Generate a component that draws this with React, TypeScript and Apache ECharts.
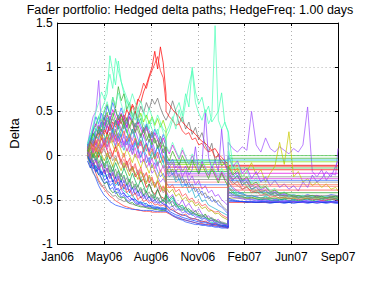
import React, { useEffect, useRef } from "react";
import * as echarts from "echarts";

// ---- axis data ----
const titleText = "Fader portfolio: Hedged delta paths; HedgeFreq: 1.00 days";
const xTickLabels = ["Jan06", "May06", "Aug06", "Nov06", "Feb07", "Jun07", "Sep07"];
const yName = "Delta";

// hedge days (days since 1 Jan 2006) for each period
const daysA = [64, 70, 76, 82, 88, 94, 100, 106, 112, 118, 124, 130, 136, 142, 148, 154, 160, 166, 172, 178, 184, 190, 196, 202, 208, 214, 220, 226, 232];
const daysB = [232, 239, 246, 253, 260, 267, 274, 281, 288, 295, 302, 309, 316, 323, 330, 337, 344, 351, 358, 365];
const daysC = [365, 375, 385, 395, 405, 415, 425, 435, 445, 455, 465, 475, 485, 495, 505, 515, 525, 535, 545, 555, 565, 575, 585, 595, 600];

// delta values in hundredths, period A (first expiry)
const pathsA: number[][] = [
  [5, -5, -12, -20, -28, -33, -38, -42, -46, -48, -51, -53, -55, -57, -58, -59, -60, -61, -62, -62, -63, -63, -63, -64, -64, -64, -64, -64, -64],
  [0, -10, -18, -26, -34, -40, -45, -48, -52, -54, -56, -57, -58, -59, -60, -60, -61, -61, -61, -62, -62, -62, -62, -62, -63, -63, -63, -63, -63],
  [8, -2, -8, -15, -22, -25, -32, -30, -38, -42, -40, -46, -48, -47, -52, -54, -53, -56, -57, -58, -58, -59, -60, -60, -61, -61, -62, -62, -62],
  [10, 2, -6, -4, -14, -20, -16, -26, -30, -28, -36, -40, -38, -44, -46, -50, -48, -52, -54, -55, -56, -57, -58, -58, -59, -59, -60, -60, -60],
  [-2, -12, -20, -24, -30, -35, -33, -40, -42, -46, -45, -49, -50, -52, -51, -54, -55, -56, -55, -57, -58, -58, -59, -59, -60, -60, -60, -61, -61],
  [4, -4, -6, -14, -10, -18, -24, -22, -20, -28, -34, -30, -36, -40, -42, -46, -44, -50, -52, -54, -53, -56, -57, -58, -59, -59, -60, -60, -60],
  [6, 12, 4, 10, -2, 8, 14, 6, -4, 2, 10, 0, -8, -14, -6, -18, -12, -24, -20, -30, -26, -36, -32, -40, -44, -38, -46, -48, -50],
  [10, 18, 26, 20, 30, 22, 14, 24, 32, 28, 18, 26, 20, 12, 22, 14, 6, 16, 8, -2, 6, -8, -2, -14, -8, -18, -24, -20, -28],
  [2, 14, 22, 30, 24, 36, 44, 34, 40, 48, 38, 30, 42, 36, 28, 20, 30, 22, 12, 18, 8, 14, 4, -4, 2, -10, -6, -14, -12],
  [12, 30, 44, 50, 85, 32, 44, 26, 36, 20, 28, 16, 24, 10, 18, 4, 12, -2, 6, -8, -4, -14, -8, -20, -16, -24, -30, -26, -32],
  [14, 24, 30, 36, 44, 52, 60, 70, 113, 95, 80, 107, 84, 70, 62, 55, 48, 40, 52, 44, 36, 28, 40, 30, 22, 30, 18, 12, 20],
  [4, 16, 28, 34, 44, 38, 50, 58, 46, 66, 54, 78, 62, 70, 52, 60, 44, 50, 36, 42, 28, 34, 20, 26, 14, 18, 8, 12, 4],
  [6, 0, 10, 16, 8, 20, 12, 26, 18, 30, 22, 34, 28, 40, 32, 44, 38, 50, 42, 56, 48, 60, 52, 64, 58, 65, 54, 46, 40],
  [8, 16, 10, 20, 26, 18, 30, 24, 36, 30, 40, 34, 46, 40, 52, 46, 58, 52, 64, 60, 72, 80, 90, 100, 118, 98, 123, 105, 70],
  [2, 10, 18, 12, 22, 30, 24, 34, 28, 38, 32, 42, 36, 46, 40, 50, 56, 48, 62, 70, 82, 76, 88, 96, 104, 112, 96, 88, 60],
  [-4, 4, -2, 8, 2, 12, 6, -2, 8, 0, -6, 4, -10, -4, -14, -8, -18, -12, -22, -16, -26, -20, -30, -26, -34, -30, -38, -34, -40],
  [2, -6, 4, -4, -12, -4, -16, -10, -22, -16, -26, -20, -30, -24, -34, -30, -38, -34, -42, -38, -46, -42, -48, -46, -50, -48, -52, -50, -52],
  [0, 8, 16, 6, 14, 24, 18, 10, 20, 12, 4, 14, 6, -2, 8, 0, -8, 2, -6, -14, -4, -12, -20, -10, -18, -26, -16, -24, -30],
  [12, 20, 28, 36, 30, 40, 34, 46, 40, 52, 44, 36, 48, 40, 32, 44, 36, 28, 38, 30, 22, 32, 24, 16, 26, 18, 10, 20, 12],
  [-6, -14, -8, -18, -12, -22, -16, -26, -20, -30, -24, -34, -28, -38, -32, -42, -36, -44, -40, -48, -44, -50, -46, -52, -50, -54, -52, -55, -56],
  [8, 20, 34, 50, 60, 72, 64, 80, 92, 76, 110, 96, 84, 74, 66, 58, 70, 60, 52, 62, 50, 42, 54, 44, 36, 46, 38, 30, 26],
  [4, 12, 2, 10, 18, 8, 16, 24, 14, 22, 30, 20, 28, 36, 26, 34, 42, 32, 40, 48, 38, 46, 36, 44, 34, 42, 32, 40, 30],
  [6, -2, 6, 14, 4, 12, 20, 10, 18, 26, 16, 24, 14, 22, 12, 20, 10, 18, 8, 16, 6, 14, 4, 12, 2, 10, 0, 8, -2],
  [4, -4, -12, -6, -16, -10, -20, -14, -26, -20, -32, -26, -38, -32, -42, -38, -46, -42, -50, -46, -52, -50, -54, -52, -56, -55, -57, -56, -58],
  [0, 6, -2, 4, 10, 2, 8, -2, 4, -6, 0, -10, -4, -14, -8, -18, -12, -22, -16, -26, -20, -30, -24, -34, -30, -38, -34, -42, -38],
  [10, 20, 14, 24, 18, 30, 22, 14, 26, 18, 10, 22, 14, 6, 18, 10, 2, 14, 6, -2, 8, 0, -8, 4, -4, -12, 0, -8, -16],
  [8, 18, 30, 44, 36, 48, 40, 56, 46, 60, 50, 42, 54, 44, 36, 48, 40, 32, 42, 34, 26, 36, 28, 20, 30, 22, 14, 24, 16],
  [0, -8, 2, -6, 4, -4, -12, -2, -10, -18, -8, -16, -24, -14, -22, -30, -20, -28, -36, -26, -34, -42, -32, -40, -48, -38, -46, -52, -44],
  [3, -6, -10, -19, -15, -27, -31, -29, -38, -36, -43, -41, -47, -45, -50, -52, -49, -54, -55, -53, -57, -58, -56, -59, -60, -59, -61, -61, -62],
  [9, 15, 6, 18, 11, 3, 14, 21, 9, -1, 12, 5, -7, 3, -11, -3, -16, -9, -21, -13, -25, -19, -31, -24, -36, -29, -41, -35, -44],
  [1, 9, -3, 5, -9, -1, -14, -6, -19, -11, -24, -17, -28, -22, -33, -27, -37, -32, -41, -36, -45, -40, -47, -44, -50, -47, -53, -50, -54],
  [7, 19, 13, 27, 35, 24, 38, 31, 45, 33, 27, 39, 30, 22, 35, 25, 17, 29, 19, 11, 23, 13, 5, 17, 7, -3, 9, -1, -7],
  [-3, 4, -8, 0, -13, -5, -9, -19, -11, -23, -15, -27, -20, -31, -25, -35, -29, -38, -33, -42, -37, -45, -41, -48, -44, -51, -47, -53, -50],
  [11, 23, 17, 31, 25, 39, 29, 43, 35, 26, 40, 32, 21, 35, 27, 16, 30, 20, 11, 25, 14, 5, 19, 8, -2, 12, 1, -8, 4],
  [13, 21, 34, 28, 45, 38, 52, 61, 49, 66, 57, 71, 59, 48, 63, 51, 42, 55, 44, 36, 49, 38, 30, 43, 31, 24, 37, 26, 19],
  [2, -4, 5, -2, 7, 1, -6, 3, -4, -12, -3, -10, -17, -8, -15, -23, -13, -20, -27, -18, -25, -32, -22, -29, -36, -27, -34, -40, -33],
  [6, 13, 3, 11, 19, 9, 17, 7, 15, 23, 12, 20, 9, 17, 5, 13, 1, 9, -3, 5, -7, 1, -11, -3, -15, -7, -19, -11, -23],
  [0, -7, -15, -11, -22, -18, -28, -25, -34, -31, -39, -37, -44, -42, -47, -46, -50, -49, -53, -52, -55, -54, -57, -56, -58, -58, -59, -59, -60],
  [5, 14, 25, 19, 33, 27, 41, 49, 36, 44, 53, 40, 47, 35, 43, 31, 39, 26, 34, 22, 29, 17, 25, 12, 20, 8, 15, 3, 10],
  [-1, 7, 13, 4, 12, 20, 10, 18, 26, 15, 23, 11, 19, 28, 16, 24, 12, 20, 8, 16, 4, 12, 0, 8, -4, 4, -8, 0, -12],
  [4, -3, -11, -5, -16, -9, -21, -14, -26, -19, -30, -23, -35, -28, -39, -33, -43, -37, -46, -41, -49, -45, -52, -48, -54, -51, -56, -53, -57],
  [8, 17, 11, 21, 29, 22, 31, 40, 33, 42, 35, 46, 38, 30, 41, 33, 25, 37, 28, 20, 32, 23, 15, 27, 18, 10, 22, 13, 6],
];

// period B: an array = path still hedged, a number = frozen delta level
const pathsB: (number[] | number)[] = [
  [-64, -66, -68, -70, -71, -72, -73, -74, -75, -76, -77, -77, -78, -78, -79, -79, -80, -80, -81, -81],
  [-63, -65, -68, -70, -72, -73, -75, -76, -77, -78, -78, -79, -79, -80, -80, -81, -81, -82, -82, -82],
  [-55, -50, -58, -54, -60, -62, -58, -64, -66, -62, -68, -70, -66, -72, -74, -72, -76, -77, -78, -79],
  [-40, -48, -44, -52, -56, -50, -58, -54, -60, -64, -60, -66, -70, -68, -72, -74, -72, -76, -78, -80],
  -27,
  [-45, -52, -48, -56, -60, -58, -64, -62, -68, -66, -70, -72, -70, -74, -76, -75, -78, -79, -80, -80],
  -13,
  [-20, -12, -22, -16, -28, -24, -34, -30, -38, -36, -44, -40, -48, -46, -52, -50, -56, -58, -62, -66],
  -5,
  -20,
  [20, 28, 40, 52, 60, 45, 70, 55, 100, 72, 58, 66, 48, 56, 38, 44, 50, 71, 36, 28],
  -8,
  [40, 48, 62, 50, 36, 44, 30, 38, 24, 32, 18, 26, 12, 4, 14, -6, 2, -12, -8, -18],
  [62, 58, 52, 48, 44, 38, 34, 30, 28, 24, 20, 16, 14, 10, 6, 8, 2, -2, -6, -10],
  [50, 44, 40, 34, 36, 28, 24, 26, 18, 20, 12, 14, 8, 4, 6, -2, 0, -6, -10, -14],
  -30,
  [-50, -55, -52, -58, -62, -60, -64, -66, -64, -68, -70, -69, -72, -74, -73, -76, -77, -78, -79, -80],
  -16,
  [10, 2, 12, 4, -4, 6, -2, -10, 0, -8, -16, -6, -14, -22, -12, -20, -28, -18, -26, -30],
  [-56, -60, -62, -64, -66, -67, -68, -70, -71, -72, -73, -74, -75, -76, -77, -77, -78, -79, -79, -80],
  [26, 34, 44, 30, 52, 38, 60, 80, 96, 60, 48, 40, 52, 36, 44, 147, 40, 30, 38, 26],
  -10,
  [-2, -10, -4, -14, -8, -18, -12, -22, -16, 10, -20, -10, 48, -2, -14, -6, -18, 30, -10, -20],
  [-58, -62, -60, -64, -66, -68, -66, -70, -72, -71, -74, -75, -74, -76, -78, -77, -79, -80, -81, -82],
  -24,
  [-16, -24, -20, -30, -26, -36, -32, -42, -38, -48, -44, -52, -50, -56, -58, -60, -62, -64, -66, -68],
  -33,
  [-44, -50, -46, -54, -58, -56, -62, -60, -64, -66, -68, -67, -70, -72, -71, -74, -75, -76, -77, -78],
  [-62, -65, -67, -69, -70, -72, -73, -74, -75, -76, -77, -78, -78, -79, -79, -80, -80, -81, -81, -82],
  [-30, -36, -33, -41, -38, -46, -43, -50, -48, -54, -52, -57, -55, -60, -62, -64, -63, -67, -69, -71],
  -18,
  [-5, -13, -8, -19, -12, -24, -17, -29, -23, -33, -28, -38, -34, -42, -39, -46, -44, -50, -53, -57],
  [-48, -54, -51, -58, -55, -61, -59, -64, -62, -67, -65, -69, -68, -71, -70, -73, -74, -75, -76, -78],
  -6,
  [12, 4, 15, 6, -3, 9, -1, -10, 2, -7, -15, -4, -12, -21, -9, -17, -25, -14, -22, -29],
  [-36, -42, -38, -46, -43, -50, -47, -53, -51, -57, -55, -60, -58, -63, -62, -66, -65, -69, -71, -73],
  -22,
  [-60, -63, -65, -67, -68, -70, -71, -72, -73, -74, -75, -76, -76, -77, -78, -78, -79, -80, -80, -81],
  [2, -6, 5, -3, -11, 0, -8, -16, -5, -13, -21, -10, -18, -26, -15, -23, -31, -20, -28, -35],
  -36,
  [-55, -59, -57, -62, -60, -65, -63, -67, -66, -70, -69, -72, -71, -74, -73, -76, -75, -77, -78, -79],
  [-12, -20, -15, -26, -21, -31, -27, -36, -32, -41, -37, -45, -42, -49, -46, -53, -51, -56, -60, -63],
];

// period C (last expiry)
const pathsC: (number[] | number)[] = [
  -53,
  [-40, -44, -46, -47, -48, -49, -49, -50, -50, -51, -50, -51, -51, -52, -51, -52, -52, -51, -52, -52, -51, -52, -52, -51, -51],
  -42,
  [-30, -36, -40, -43, -45, -47, -46, -48, -49, -48, -50, -49, -50, -51, -50, -50, -51, -50, -49, -50, -51, -50, -49, -48, -50],
  -24,
  [-35, -40, -44, -42, -46, -45, -47, -48, -46, -48, -49, -47, -48, -49, -48, -47, -48, -49, -47, -48, -46, -48, -47, -46, -47],
  -11,
  [-20, -28, -22, -34, -30, -38, -36, -42, -40, -44, -42, -45, -44, -46, -45, -47, -46, -44, -46, -45, -47, -46, -44, -45, -46],
  0,
  [15, 8, 4, 10, 6, 50, 12, 4, 20, 8, 4, 10, 6, 2, 8, 4, 12, 55, -18, -24, -16, -28, -20, -22, 8],
  [28, -10, -25, -30, -34, -38, -40, -42, -44, -43, -45, -44, -46, -45, -47, -46, -45, -47, -46, -48, -47, -46, -47, -48, -47],
  -3,
  [-22, -30, -34, -38, -36, -40, -42, -41, -44, -43, -45, -44, -46, -45, -47, -46, -45, -46, -47, -46, -48, -47, -46, -47, -48],
  -16,
  -12,
  -35,
  [-42, -45, -47, -48, -49, -50, -50, -51, -51, -52, -52, -52, -53, -52, -53, -53, -52, -53, -53, -52, -53, -53, -52, -53, -53],
  [-10, -20, -14, -24, -18, -8, -22, -16, -30, -20, -12, 15, -10, 27, -24, -18, -30, -26, -34, -30, -36, -32, -38, -36, -40],
  -20,
  [-50, -51, -52, -52, -53, -52, -53, -53, -52, -53, -53, -52, -53, -53, -52, -53, -52, -53, -53, -52, -53, -53, -52, -53, -53],
  [10, -20, -30, -26, -36, -32, -40, -38, -44, -42, -46, -44, -48, -46, -47, -48, -46, -48, -47, -49, -48, -47, -48, -49, -48],
  -7,
  [0, -12, -6, -20, -14, -26, -18, -30, -24, -34, -28, -36, -32, -38, -34, -40, -30, -36, -22, -30, -26, -18, -24, -12, -6],
  -39,
  -30,
  [-30, -38, -42, -44, -46, -45, -47, -48, -47, -49, -48, -50, -49, -48, -50, -49, -50, -48, -49, -50, -49, -48, -50, -49, -50],
  -28,
  [-36, -42, -45, -46, -48, -47, -49, -50, -49, -50, -51, -50, -49, -51, -50, -51, -50, -49, -51, -50, -49, -51, -50, -49, -50],
  -52,
  [-25, -33, -29, -38, -35, -42, -40, -45, -43, -47, -46, -48, -47, -49, -48, -50, -49, -48, -50, -49, -51, -50, -49, -50, -51],
  -14,
  [-15, -24, -19, -30, -26, -35, -32, -39, -36, -42, -40, -44, -43, -45, -44, -46, -45, -47, -46, -45, -47, -46, -48, -47, -46],
  -45,
  -5,
  [5, -15, -8, -24, -17, -31, -25, -36, -32, -40, -37, -43, -41, -45, -44, -46, -45, -47, -46, -48, -47, -46, -48, -47, -48],
  -48,
  -26,
  [-48, -50, -51, -52, -52, -53, -53, -52, -53, -54, -53, -53, -54, -53, -54, -53, -53, -54, -53, -54, -53, -54, -53, -54, -54],
  [-12, -22, -17, -28, -24, -33, -30, -37, -35, -41, -39, -43, -42, -44, -46, -45, -47, -46, -45, -47, -46, -48, -47, -46, -47],
  -33,
  [-44, -47, -48, -49, -50, -50, -51, -51, -50, -52, -51, -52, -52, -51, -52, -52, -53, -52, -52, -53, -52, -52, -53, -52, -53],
  [-18, -27, -23, -33, -29, -38, -35, -41, -39, -44, -42, -46, -45, -47, -46, -48, -47, -46, -48, -47, -49, -48, -47, -49, -48],
];

const pathColors = [
  "#ff3030", "#2050ff", "#20a020", "#9a3cff", "#808080", "#00c8c8", "#e00000",
  "#4060ff", "#40c040", "#a050ff", "#40ffb0", "#30b030", "#707070", "#ff0000",
  "#ff2020", "#ff8080", "#8080ff", "#c8c800", "#e000e0", "#0030e0", "#50ffb8",
  "#80e000", "#9040ff", "#ff4040", "#909090", "#20b0d0", "#3070ff", "#00b050",
  "#3050ff", "#ff5050", "#30b040", "#a040ff", "#888888", "#00bcd0", "#60ffc0",
  "#b0b000", "#e040e0", "#1040ff", "#40b020", "#ff6040", "#8a50ff", "#7a7a7a",
];

function segment(days: number[], part: number[] | number): number[][] {
  if (Array.isArray(part)) return part.map((v, i) => [days[i], v / 100]);
  return [
    [days[0], part / 100],
    [days[days.length - 1], part / 100],
  ];
}

export default function App() {
  const ref = useRef<HTMLDivElement>(null);
  useEffect(() => {
    if (!ref.current) return;
    const chart = echarts.init(ref.current, null, { renderer: "svg" });
    const font = "Liberation Sans, Arial, Helvetica, sans-serif";
    const series = pathsA.map((a, i) => ({
      type: "line",
      data: [
        ...segment(daysA, a),
        ...segment(daysB, pathsB[i]),
        ...segment(daysC, pathsC[i]),
      ],
      showSymbol: false,
      symbol: "none",
      lineStyle: { width: 0.8, color: pathColors[i % pathColors.length], opacity: 0.9 },
      silent: true,
      z: 2,
    }));
    const lbl = { fontFamily: font, fontSize: 12, color: "#000" };
    chart.setOption({
      animation: false,
      title: {
        text: titleText,
        left: 190,
        top: 3,
        padding: 0,
        textAlign: "center",
        textStyle: { fontFamily: font, fontSize: 12.5, lineHeight: 13, fontWeight: "normal", color: "#000" },
      },
      grid: { left: 49, right: 36, top: 23, bottom: 37, containLabel: false },
      xAxis: [
        {
          type: "value",
          min: 0,
          max: 600,
          interval: 100,
          axisLine: { show: true, onZero: false, lineStyle: { color: "#000", width: 1 } },
          axisTick: { show: true, inside: true, length: 3, lineStyle: { color: "#000" } },
          axisLabel: {
            ...lbl,
            lineHeight: 12,
            margin: 7,
            formatter: (v: number) => xTickLabels[Math.round(v / 100)] ?? "",
          },
          splitLine: { show: true, lineStyle: { color: "#b0b0b0", type: [1, 3], width: 1 } },
        },
        {
          type: "value",
          position: "top",
          min: 0,
          max: 600,
          interval: 100,
          axisLine: { show: true, onZero: false, lineStyle: { color: "#000", width: 1 } },
          axisTick: { show: true, inside: true, length: 3, lineStyle: { color: "#000" } },
          axisLabel: { show: false },
          splitLine: { show: false },
        },
      ],
      yAxis: [
        {
          type: "value",
          min: -1,
          max: 1.5,
          interval: 0.5,
          name: yName,
          nameLocation: "middle",
          nameGap: 33,
          nameTextStyle: { fontFamily: font, fontSize: 13, color: "#000" },
          axisLine: { show: true, onZero: false, lineStyle: { color: "#000", width: 1 } },
          axisTick: { show: true, inside: true, length: 3, lineStyle: { color: "#000" } },
          axisLabel: {
            ...lbl,
            lineHeight: 10,
            margin: 5,
            formatter: (v: number) => String(v),
          },
          splitLine: { show: true, lineStyle: { color: "#b0b0b0", type: [1, 3], width: 1 } },
        },
        {
          type: "value",
          position: "right",
          min: -1,
          max: 1.5,
          interval: 0.5,
          axisLine: { show: true, onZero: false, lineStyle: { color: "#000", width: 1 } },
          axisTick: { show: true, inside: true, length: 3, lineStyle: { color: "#000" } },
          axisLabel: { show: false },
          splitLine: { show: false },
        },
      ],
      series,
    });
    return () => chart.dispose();
  }, []);
  return (
    <div
      ref={ref}
      style={{ position: "fixed", left: 0, top: 0, width: 374, height: 281, background: "#fff" }}
    />
  );
}
